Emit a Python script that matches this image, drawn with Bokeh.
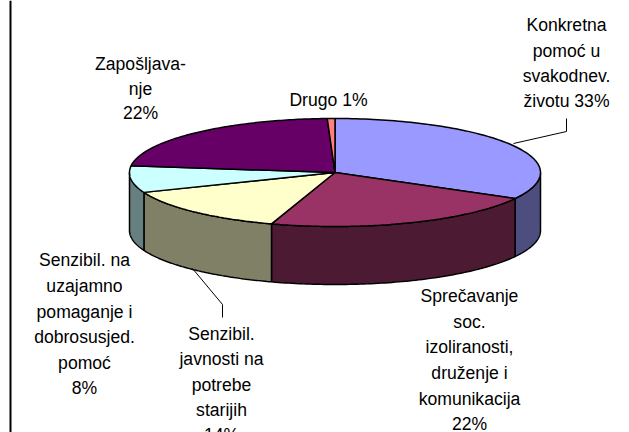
import numpy as np
from bokeh.plotting import figure
from bokeh.models import Range1d
from bokeh.core.properties import value
from bokeh.embed import file_html
from bokeh.resources import INLINE

categories = ["Konkretna pomoć u svakodnev. životu", "Sprečavanje soc. izoliranosti, druženje i komunikacija",
              "Senzibil. javnosti na potrebe starijih", "Senzibil. na uzajamno pomaganje i dobrosusjed. pomoć",
              "Zapošljavanje", "Drugo"]
shares = [33.0, 22.0, 14.0, 8.0, 22.4, 0.6]
top_colors = ["#9999FF", "#993366", "#FFFFCC", "#CCFFFF", "#660066", "#FF8080"]
side_colors = ["#4D4D80", "#4D1A33", "#808066", "#668080", "#330033", "#804040"]

label_lines = ["Konkretna", "pomoć u", "svakodnev.", "životu 33%",
               "Sprečavanje", "soc.", "izoliranosti,", "druženje i", "komunikacija", "22%",
               "Senzibil.", "javnosti na", "potrebe", "starijih", "14%",
               "Senzibil. na", "uzajamno", "pomaganje i", "dobrosusjed.", "pomoć", "8%",
               "Zapošljava-", "nje", "22%", "Drugo 1%"]
label_x = [566]*4 + [469]*6 + [221]*5 + [84]*6 + [140]*3 + [328]
label_y = [24, 50, 75, 100,
           295, 321, 346, 372, 398, 423,
           333, 358, 384, 409, 434,
           259, 285, 311, 336, 362, 387,
           63, 88, 112, 99]

W, H = 629, 432
CX, CY, RX, RY, DEPTH = 334.5, 172, 205.5, 54, 58

p = figure(width=W, height=H, output_backend="svg", toolbar_location=None,
           x_range=Range1d(0, W), y_range=Range1d(H, 0), min_border=0)
p.axis.visible = False
p.grid.visible = False
p.outline_line_color = None

def pt(a, dy=0.0):
    a = np.asarray(a)
    return CX + RX*np.sin(a), CY - RY*np.cos(a) + dy

edges = np.radians(np.cumsum([0.0] + shares) * 3.6)
# side faces, visible only for the front half
sx, sy, sc = [], [], []
for a0, a1, c in zip(edges[:-1], edges[1:], side_colors):
    lo, hi = max(a0, np.pi/2), min(a1, 3*np.pi/2)
    if hi <= lo:
        continue
    t = np.linspace(lo, hi, 80)
    x, y = pt(t)
    xb, yb = pt(t[::-1], DEPTH)
    sx.append(np.r_[x, xb].tolist()); sy.append(np.r_[y, yb].tolist()); sc.append(c)
p.patches(sx, sy, fill_color=sc, line_color="black", line_width=1.5)

tx, ty = [], []
for a0, a1 in zip(edges[:-1], edges[1:]):
    t = np.linspace(a0, a1, 100)
    x, y = pt(t)
    tx.append(np.r_[CX, x].tolist()); ty.append(np.r_[CY, y].tolist())
p.patches(tx, ty, fill_color=top_colors, line_color="black", line_width=1.5)

# leader lines
lead_x = [[513, 566, 566], [192, 222, 222]]
lead_y = [[143, 131, 118], [268, 304, 317]]
p.multi_line(lead_x, lead_y, line_color="black", line_width=1)

# chart frame, left edge
p.segment([10], [0], [10], [H], line_color="black", line_width=2)

p.text(label_x, label_y, text=label_lines,
       text_font=value("Liberation Sans"), text_font_size="17.6px", text_color="black",
       text_align="center", text_baseline="middle")

open("out.html", "w").write(file_html(p, INLINE))
